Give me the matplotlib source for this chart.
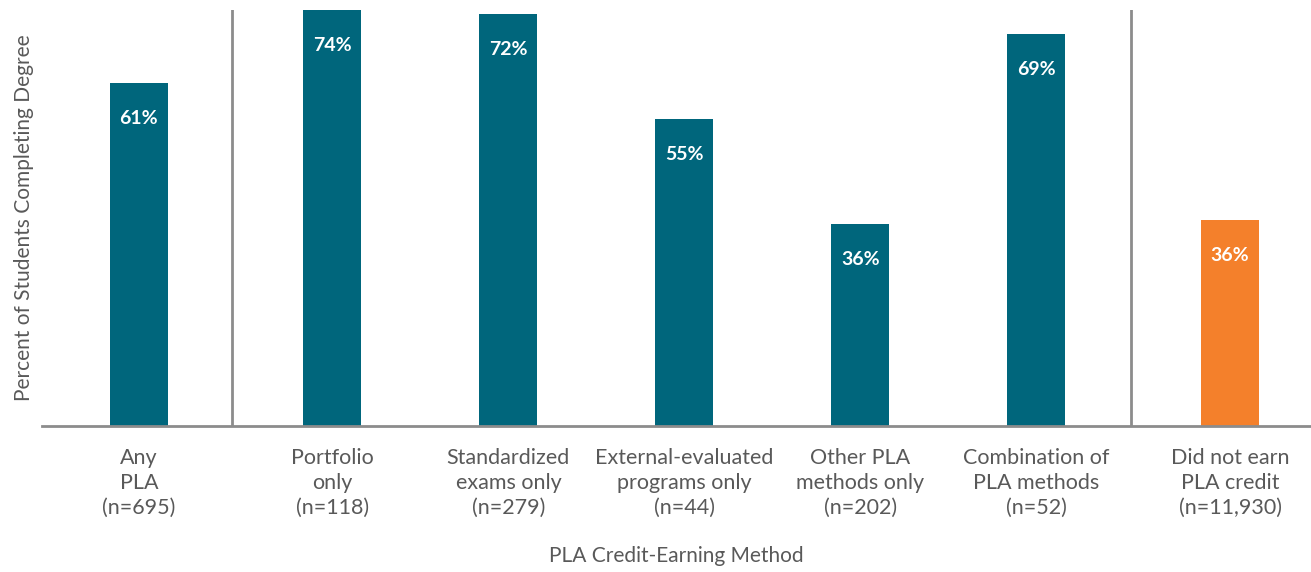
import numpy as np
import matplotlib.pyplot as plt

plt.rcParams['font.family'] = ['Lato', 'DejaVu Sans']

categories = ["Any\nPLA\n(n=695)",
              "Portfolio\nonly\n(n=118)",
              "Standardized\nexams only\n(n=279)",
              "External-evaluated\nprograms only\n(n=44)",
              "Other PLA\nmethods only\n(n=202)",
              "Combination of\nPLA methods\n(n=52)",
              "Did not earn\nPLA credit\n(n=11,930)"]
pct_completing = [61.0, 74.0, 73.3, 54.6, 35.9, 69.8, 36.7]
value_labels = ["61%", "74%", "72%", "55%", "36%", "69%", "36%"]

teal = '#00667c'
orange = '#f4802b'
grey_text = '#595959'

# small extra gap around the separated first and last groups
x = np.arange(len(categories), dtype=float)
x[1:] += 0.1
x[-1] += 0.1
colors = [teal] * (len(categories) - 1) + [orange]

fig = plt.figure(figsize=(13.11, 5.72), dpi=100)
ax = fig.add_axes([0.032, 0.255, 0.968, 0.7275])

ax.bar(x, pct_completing, width=0.33, color=colors, zorder=2)
for xi, h, lab in zip(x, pct_completing, value_labels):
    ax.text(xi, h - 6.3, lab, ha='center', va='center', color='white',
            fontsize=14, fontweight='bold')

# separators between groups
ax.axvline(x[0] + 0.53, color='#8c8c8c', lw=2, zorder=1)
ax.axvline(x[-1] - 0.56, color='#8c8c8c', lw=2, zorder=1)

ax.set_xlim(-0.55, 6.66)
ax.set_ylim(0, 74)
for side in ['top', 'right', 'left']:
    ax.spines[side].set_visible(False)
ax.spines['bottom'].set_color('#8c8c8c')
ax.spines['bottom'].set_linewidth(2)
ax.set_yticks([])
ax.set_xticks(x)
ax.set_xticklabels(categories, fontsize=15.5, color=grey_text, linespacing=1.3)
ax.tick_params(axis='x', length=0, pad=16)

ax.set_ylabel("Percent of Students Completing Degree", fontsize=15,
              color=grey_text, labelpad=6)
ax.set_xlabel("PLA Credit-Earning Method", fontsize=15, color=grey_text,
              labelpad=20)

plt.savefig("out.png", dpi=100)
